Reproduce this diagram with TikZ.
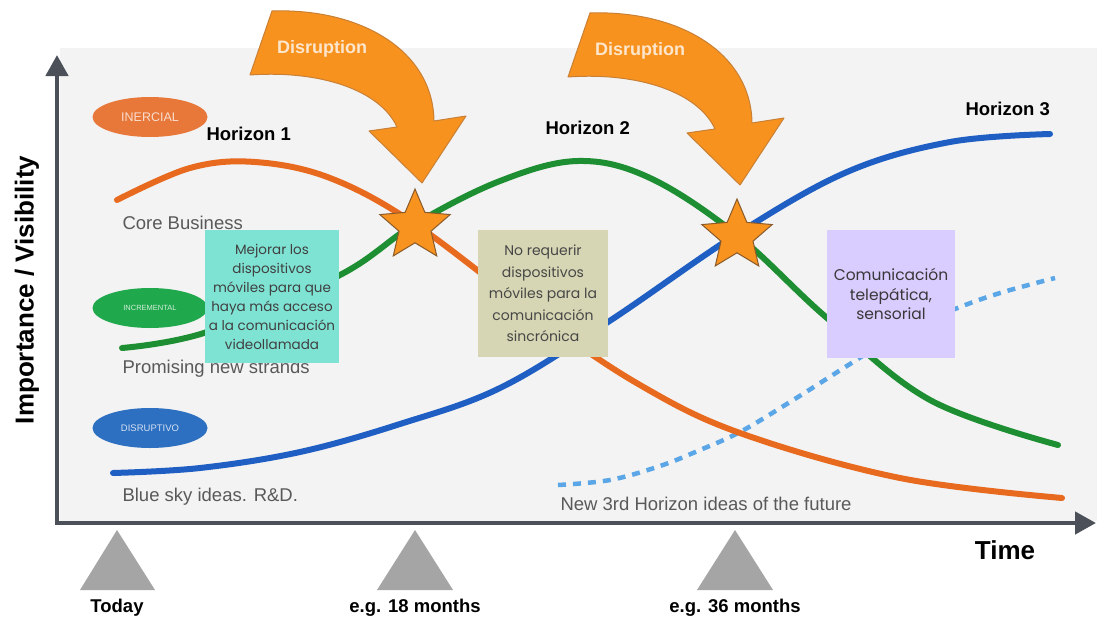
\documentclass[tikz,border=0pt]{standalone}
\usepackage{fontspec}
\setmainfont{Liberation Sans}
\newfontfamily\boxfont{Poppins}
\usetikzlibrary{shapes.geometric,arrows.meta}

\definecolor{bggray}{HTML}{F3F3F3}
\definecolor{axisgray}{HTML}{4B5059}
\definecolor{curveorange}{HTML}{E86A1F}
\definecolor{curvegreen}{HTML}{1E8E32}
\definecolor{curveblue}{HTML}{1F5EC2}
\definecolor{curvelight}{HTML}{5BA6E6}
\definecolor{starfill}{HTML}{F7931E}
\definecolor{stardraw}{HTML}{8A5A2B}
\definecolor{arrowfill}{HTML}{F8921E}
\definecolor{arrowdraw}{HTML}{C98035}
\definecolor{arrowtext}{HTML}{FDE6CC}
\definecolor{labelgray}{HTML}{595959}
\definecolor{markgray}{HTML}{A5A5A5}
\definecolor{tealbox}{HTML}{7FE3D4}
\definecolor{khakibox}{HTML}{D6D6B4}
\definecolor{lilacbox}{HTML}{D9CCFF}
\definecolor{ellorange}{HTML}{E8773A}
\definecolor{ellgreen}{HTML}{1FA84C}
\definecolor{ellblue}{HTML}{2D6FC0}

\tikzset{
  curve/.style={line width=6pt, line cap=round},
  starmark/.style={star, star points=5, star point ratio=2.2, minimum size=74pt,
    inner sep=0pt, fill=starfill, draw=stardraw, line width=1pt},
  ideabox/.style={inner sep=0pt, minimum width=#1, align=center,
    font=\boxfont\fontsize{13.5}{19}\selectfont},
  sidelabel/.style={anchor=base west, text=labelgray, font=\fontsize{18.5}{22}\selectfont},
  horizon/.style={anchor=base west, font=\bfseries\fontsize{18.5}{22}\selectfont},
  ticklabel/.style={anchor=base, font=\bfseries\fontsize{18.5}{22}\selectfont},
  tag/.style={ellipse, inner sep=0pt, minimum width=115pt, minimum height=40pt},
  disruptarrow/.style={fill=arrowfill, draw=arrowdraw, line width=1pt, line join=round},
  disrupttext/.style={text=arrowtext, font=\bfseries\fontsize{18}{22}\selectfont},
}

\begin{document}
\begin{tikzpicture}[x=1pt,y=-1pt]
\useasboundingbox (0,0) rectangle (1097,618);

% plot area
\fill[bggray] (60,48) rectangle (1097,521);

% axes
\coordinate (ytop) at (57,55);
\coordinate (origin) at (57,523);
\coordinate (xend) at (1096,523);
\draw[axisgray, line width=4.5pt, line join=miter,
  {Triangle[length=21pt,width=22pt]}-{Triangle[length=21pt,width=22pt]}]
  (ytop) -- (origin) -- (xend);
\node[rotate=90, font=\bfseries\fontsize{26}{30}\selectfont] (ylab) at (27,290) {Importance / Visibility};
\node[anchor=base, font=\bfseries\fontsize{26}{30}\selectfont] (xlab) at (1005,559) {Time};

% time markers
\fill[markgray] (80,590) -- (117,530) -- (155,590) -- cycle;
\fill[markgray] (377,590) -- (415,530) -- (453,590) -- cycle;
\fill[markgray] (697,590) -- (735,530) -- (773,590) -- cycle;
\node[ticklabel] (today) at (117,612) {Today};
\node[ticklabel] (m18) at (415,612) {e.g. 18 months};
\node[ticklabel] (m36) at (735,612) {e.g. 36 months};

% side labels
\node[sidelabel] (core) at (119,229) {Core Business};
\node[sidelabel] (promising) at (119,373) {Promising new strands};
\node[sidelabel] (bluesky) at (119,501) {Blue sky ideas. R\&D.};
\node[sidelabel] (newideas) at (557,510) {New 3rd Horizon ideas of the future};

% horizon curves
\draw[curve, curvelight, line width=4.5pt, line cap=butt, dash pattern=on 8pt off 7pt]
  plot[smooth, tension=0.6] coordinates {(558,485) (610,480) (660,466) (700,450) (740,432)
  (790,402) (850,364) (900,333) (955,309) (1000,293) (1055,278)};
\draw[curve, curveorange] plot[smooth, tension=0.6] coordinates {(117,200) (190,168) (255,162)
  (330,178) (415,224) (540,318) (640,385) (740,433) (900,478) (1062,498)};
\draw[curve, curvegreen] plot[smooth, tension=0.6] coordinates {(122,348) (207,332) (340,275)
  (415,224) (500,181) (578,161) (650,178) (737,235) (827,318) (930,400) (1058,445)};
\draw[curve, curveblue] plot[smooth, tension=0.6] coordinates {(113,473) (200,468) (300,452)
  (400,424) (500,388) (608,322) (737,234) (847,172) (950,142) (1050,134)};

% crossing stars
\node[starmark] (star1) at (415,226) {};
\node[starmark] (star2) at (737,236) {};

% horizon titles
\node[horizon] (h1) at (203,140) {Horizon 1};
\node[horizon] (h2) at (542,134) {Horizon 2};
\node[horizon] (h3) at (962,115) {Horizon 3};

% tags
\node[tag, fill=ellorange, text=ellorange!25!white, font=\fontsize{12.5}{14}\selectfont] (inercial) at (150,117) {INERCIAL};
\node[tag, fill=ellgreen, text=ellgreen!20!white, font=\fontsize{7.5}{9}\selectfont] (incremental) at (150,308) {INCREMENTAL};
\node[tag, fill=ellblue, text=ellblue!20!white, font=\fontsize{9.5}{11}\selectfont] (disruptivo) at (150,428) {DISRUPTIVO};

% idea boxes
\node[ideabox=134pt, minimum height=133pt, fill=tealbox, text=black!75] (idea1) at (272,296.5)
  {Mejorar los\\dispositivos\\móviles para que\\haya más acceso\\a la comunicación\\videollamada};
\node[ideabox=130pt, minimum height=127pt, fill=khakibox, text=black!72,
  font=\boxfont\fontsize{14}{21.5}\selectfont] (idea2) at (543,293.5)
  {No requerir\\dispositivos\\móviles para la\\comunicación\\sincrónica};
\node[ideabox=128pt, minimum height=128pt, fill=lilacbox, text=black!78,
  font=\boxfont\fontsize{15.5}{19.5}\selectfont] (idea3) at (891,294)
  {Comunicación\\telepática,\\sensorial};

% disruption arrows
\begin{scope}
  \filldraw[disruptarrow] (272,11) .. controls (360,8) and (433,50) .. (434,121)
    -- (466,116) -- (422,183) -- (369,131) -- (397,127)
    .. controls (380,90) and (320,70) .. (250,75) -- cycle;
  \node[disrupttext] (dis1) at (322,49) {Disruption};
\end{scope}
\begin{scope}[shift={(318,2)}]
  \filldraw[disruptarrow] (272,11) .. controls (360,8) and (433,50) .. (434,121)
    -- (466,116) -- (422,183) -- (369,131) -- (397,127)
    .. controls (380,90) and (320,70) .. (250,75) -- cycle;
  \node[disrupttext] (dis2) at (322,49) {Disruption};
\end{scope}
\end{tikzpicture}
\end{document}
